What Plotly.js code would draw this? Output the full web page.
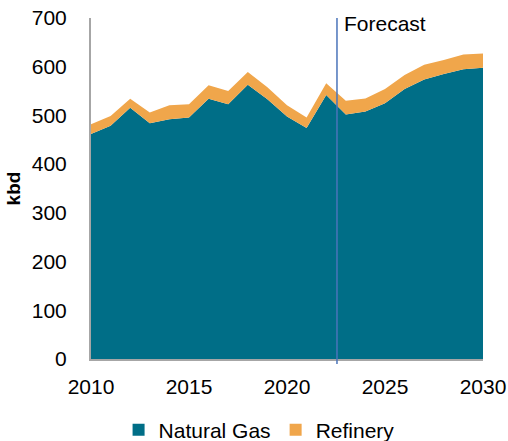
<!DOCTYPE html>
<html>
<head>
<meta charset="utf-8">
<script src="https://cdn.plot.ly/plotly-3.0.1.min.js"></script>
<style>html,body{margin:0;padding:0;background:#fff;}#chart{width:508px;height:441px;}</style>
</head>
<body>
<div id="chart"></div>
<script>
const years = [2010,2011,2012,2013,2014,2015,2016,2017,2018,2019,2020,2021,2022,2023,2024,2025,2026,2027,2028,2029,2030];
const naturalGas = [462,479,516,484,492,496,534,523,563,533,498,474,542,502,508,525,554,574,585,595,598];
const refinery = [20,20,18,22,29,27,28,27,26,25,23,22,24,28,27,29,29,30,29,30,29];
const forecastYear = 2022.55;
const forecastLabel = "Forecast";
const yTicks = [0,100,200,300,400,500,600,700];
const xTicks = [2010,2015,2020,2025,2030];

const cGas = "#006E87";
const cRef = "#F0A64B";
const font = "Liberation Sans, Arial, sans-serif";

const traces = [
  {x: years, y: naturalGas, type: "scatter", mode: "lines", stackgroup: "s", line: {width: 0, color: cGas}, fillcolor: cGas, showlegend: false, hoverinfo: "x+y"},
  {x: years, y: refinery, type: "scatter", mode: "lines", stackgroup: "s", line: {width: 0, color: cRef}, fillcolor: cRef, showlegend: false, hoverinfo: "x+y"},
  {x: [null], y: [null], type: "scatter", mode: "markers", name: "Natural Gas", marker: {symbol: "square", size: 12, color: cGas}},
  {x: [null], y: [null], type: "scatter", mode: "markers", name: "Refinery", marker: {symbol: "square", size: 12, color: cRef}}
];

const layout = {
  width: 508, height: 441,
  margin: {l: 91, r: 25, t: 18, b: 82, autoexpand: false},
  paper_bgcolor: "#fff", plot_bgcolor: "#fff",
  font: {family: font, size: 21, color: "#000"},
  showlegend: true,
  legend: {orientation: "h", traceorder: "normal", xref: "container", x: 0.51, xanchor: "center", yref: "container", y: 0.025, yanchor: "middle", font: {size: 21}, itemwidth: 30, tracegroupgap: 0},
  xaxis: {range: [2010, 2030], tickvals: xTicks, showgrid: false, zeroline: false, showline: true, linecolor: "#A6A6A6", linewidth: 2, ticks: "", ticklabelstandoff: 8, fixedrange: true},
  yaxis: {range: [0, 700], tickvals: yTicks, showgrid: false, zeroline: false, showline: true, linecolor: "#A6A6A6", linewidth: 2, ticks: "", ticklabelstandoff: 18,
          title: {text: "<b>kbd</b>", font: {size: 19}, standoff: 6}, fixedrange: true},
  shapes: [
    {type: "line", xref: "x", yref: "paper", x0: forecastYear, x1: forecastYear, y0: -0.015, y1: 1, line: {color: "#4A74BA", width: 1.5}}
  ],
  annotations: [
    {xref: "x", yref: "paper", x: forecastYear, y: 1, xanchor: "left", yanchor: "middle", xshift: 5, yshift: -5, text: forecastLabel, showarrow: false, font: {size: 21}}
  ]
};

Plotly.newPlot("chart", traces, layout, {displayModeBar: false, staticPlot: true});
</script>
</body>
</html>
